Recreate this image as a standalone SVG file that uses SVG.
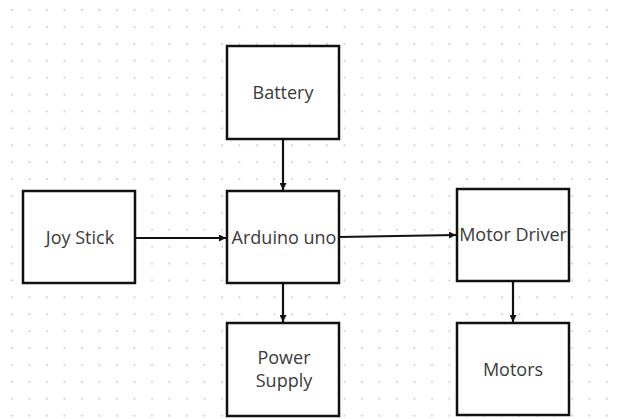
<svg xmlns="http://www.w3.org/2000/svg" width="617" height="419" viewBox="0 0 617 419">
  <defs>
    <pattern id="dots" x="3" y="1" width="17.5" height="16.9" patternUnits="userSpaceOnUse">
      <circle cx="9" cy="9" r="0.9" fill="#b8b8b8"/>
    </pattern>
    <marker id="arrow" viewBox="0 0 10 10" refX="10" refY="5" markerWidth="7" markerHeight="7" markerUnits="userSpaceOnUse" orient="auto">
      <path d="M0,0 L10,5 L0,10 Z" fill="#111"/>
    </marker>
  </defs>
  <style>
    .box { fill: #ffffff; stroke: #111111; stroke-width: 2.5; }
    .label { font-family: "Open Sans", "Liberation Sans", sans-serif; font-size: 18px; fill: #3a3a3a; text-anchor: middle; }
    .conn { stroke: #111111; stroke-width: 2.2; fill: none; marker-end: url(#arrow); }
  </style>
  <rect width="617" height="419" fill="#ffffff"/>
  <rect width="617" height="419" fill="url(#dots)"/>

  <g id="connectors">
    <line class="conn" x1="283" y1="139" x2="283" y2="190"/>
    <line class="conn" x1="283" y1="283" x2="283" y2="322"/>
    <line class="conn" x1="513" y1="281" x2="513" y2="322"/>
    <line class="conn" x1="135" y1="238" x2="226" y2="238"/>
    <line class="conn" x1="339" y1="237" x2="456" y2="235"/>
  </g>

  <g id="battery">
    <rect class="box" x="227" y="46" width="112" height="93"/>
    <text class="label" x="283" y="99">Battery</text>
  </g>
  <g id="arduino">
    <rect class="box" x="227" y="191" width="112" height="92"/>
    <text class="label" x="284" y="244">Arduino uno</text>
  </g>
  <g id="joystick">
    <rect class="box" x="23" y="191" width="112" height="92"/>
    <text class="label" x="80" y="244">Joy Stick</text>
  </g>
  <g id="motordriver">
    <rect class="box" x="457" y="189" width="112" height="92"/>
    <text class="label" x="513" y="241">Motor Driver</text>
  </g>
  <g id="powersupply">
    <rect class="box" x="227" y="323" width="112" height="93"/>
    <text class="label" x="284" y="364">Power</text>
    <text class="label" x="284" y="387">Supply</text>
  </g>
  <g id="motors">
    <rect class="box" x="457" y="323" width="112" height="92"/>
    <text class="label" x="513" y="376">Motors</text>
  </g>
</svg>
